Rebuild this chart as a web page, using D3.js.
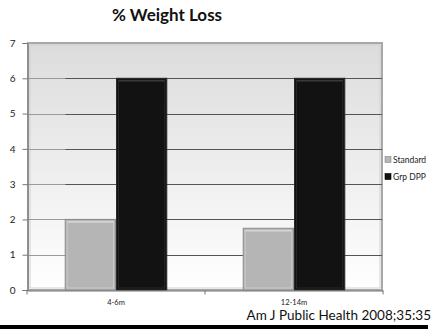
<!DOCTYPE html>
<html>
<head>
<meta charset="utf-8">
<script src="https://cdn.jsdelivr.net/npm/d3@7"></script>
<style>
  html, body { margin: 0; padding: 0; background: #fff; }
  svg { display: block; }
  text { font-family: Lato, "Open Sans", sans-serif; }
</style>
</head>
<body>
<svg id="chart" width="431" height="329"></svg>
<script>
// Chart data
const categories = ["4-6m", "12-14m"];
const series = ["Standard", "Grp DPP"];
const standardValues = [2, 1.75];
const dppValues = [6, 6];
const yTicks = [0, 1, 2, 3, 4, 5, 6, 7];
const seriesColors = ["#b5b5b5", "#121212"];

const rows = categories.map((c, i) => ({ category: c, values: [standardValues[i], dppValues[i]] }));

const svg = d3.select("#chart");
const plot = { left: 27, right: 383, top: 43, bottom: 290 };

const x0 = d3.scaleBand().domain(categories).range([plot.left, plot.right]).padding(0);
const x1 = d3.scaleBand().domain(series).range([0, x0.bandwidth()]).paddingInner(0.02).paddingOuter(0.745);
const y = d3.scaleLinear().domain([0, 7]).range([plot.bottom, plot.top]);

const defs = svg.append("defs");
const bg = defs.append("linearGradient").attr("id", "wall").attr("x1", 0).attr("y1", 0).attr("x2", 0).attr("y2", 1);
bg.append("stop").attr("offset", "0%").attr("stop-color", "#dcdcdc");
bg.append("stop").attr("offset", "100%").attr("stop-color", "#ffffff");

// Title
svg.append("text").attr("x", 167).attr("y", 21).attr("text-anchor", "middle")
  .style("font-family", "Lato, 'Open Sans', sans-serif")
  .attr("font-size", 17).attr("font-weight", "bold").attr("fill", "#111").text("% Weight Loss");

// Plot wall with frame
svg.append("rect").attr("x", plot.left + 1).attr("y", plot.top)
  .attr("width", plot.right - plot.left - 2).attr("height", plot.bottom - plot.top)
  .attr("fill", "url(#wall)").attr("stroke", "#a8a8a8").attr("stroke-width", 2);
svg.append("rect").attr("x", plot.left + 3).attr("y", plot.top + 2)
  .attr("width", plot.right - plot.left - 6).attr("height", plot.bottom - plot.top - 4)
  .attr("fill", "none").attr("stroke", "#d0d0d0").attr("stroke-width", 1);

// Gridlines: light on the side wall, darker across the back wall
const gridVals = yTicks.filter(v => v > 0 && v < 7);
const backWallX = x0(categories[0]) + x1(series[0]);
svg.append("g").selectAll("line").data(gridVals).join("line")
  .attr("x1", plot.left).attr("x2", backWallX)
  .attr("y1", d => Math.round(y(d)) + 0.5).attr("y2", d => Math.round(y(d)) + 0.5)
  .attr("stroke", "#9a9a9a").attr("stroke-width", 1);
svg.append("g").selectAll("line").data(gridVals).join("line")
  .attr("x1", backWallX).attr("x2", plot.right - 1)
  .attr("y1", d => Math.round(y(d)) + 0.5).attr("y2", d => Math.round(y(d)) + 0.5)
  .attr("stroke", "#555").attr("stroke-width", 1);

// Bars
const groups = svg.append("g").selectAll("g").data(rows).join("g")
  .attr("transform", d => `translate(${x0(d.category)},0)`);
groups.each(function (d) {
  const g = d3.select(this);
  d.values.forEach((v, i) => {
    const bx = x1(series[i]), bw = x1.bandwidth();
    const top = y(v), h = y(0) - y(v);
    g.append("rect").attr("x", bx).attr("y", top).attr("width", bw).attr("height", h)
      .attr("fill", seriesColors[i]).attr("stroke", i === 0 ? "#8c8c8c" : "#2a2a2a").attr("stroke-width", 1);
    // bevel highlight
    g.append("rect").attr("x", bx + 2).attr("y", top + 2).attr("width", bw - 4).attr("height", Math.max(0, h - 4))
      .attr("fill", "none").attr("stroke", i === 0 ? "#c8c8c8" : "#262626").attr("stroke-width", 1);
    g.append("line").attr("x1", bx + 2).attr("x2", bx + bw - 2).attr("y1", top + 2.5).attr("y2", top + 2.5)
      .attr("stroke", i === 0 ? "#d6d6d6" : "#3a3a3a").attr("stroke-width", 1.5);
  });
});

// Y axis
const yAxis = d3.axisLeft(y).tickValues(yTicks).tickSize(5).tickPadding(7).tickFormat(d3.format("d"));
const yg = svg.append("g").attr("transform", `translate(${plot.left + 0.5},0)`).call(yAxis);
yg.select(".domain").attr("stroke", "#777");
yg.selectAll(".tick line").attr("stroke", "#777");
yg.selectAll("text").attr("font-size", 10).attr("fill", "#222");

// X axis
const xAxis = d3.axisBottom(x0).tickSize(0).tickPadding(9);
const xg = svg.append("g").attr("transform", `translate(0,${plot.bottom + 0.5})`).call(xAxis);
xg.select(".domain").attr("stroke", "#777");
xg.selectAll("text").attr("font-size", 7.5).attr("fill", "#222");
// category boundary ticks
xg.append("g").selectAll("line").data(categories.concat([null])).join("line")
  .attr("x1", (d, i) => i < categories.length ? x0(d) : x0.range()[1])
  .attr("x2", (d, i) => i < categories.length ? x0(d) : x0.range()[1])
  .attr("y1", 0).attr("y2", 4).attr("stroke", "#777");

// Legend
const legend = svg.append("g").attr("transform", "translate(385,160)");
series.forEach((s, i) => {
  const row = legend.append("g").attr("transform", `translate(0,${i * 17})`);
  row.append("rect").attr("x", 0).attr("y", -3.5).attr("width", 6).attr("height", 6)
    .attr("fill", seriesColors[i]).attr("stroke", i === 0 ? "#888" : "#000").attr("stroke-width", 0.6);
  row.append("text").attr("x", 8).attr("y", 0).attr("dy", "0.35em")
    .attr("font-size", 8.5).attr("fill", "#222").text(s);
});

// Source line and footer rule
svg.append("text").attr("x", 431).attr("y", 320).attr("text-anchor", "end")
  .attr("font-size", 13.5).attr("fill", "#111").text("Am J Public Health 2008;35:35");
svg.append("rect").attr("x", 0).attr("y", 325).attr("width", 428).attr("height", 4).attr("fill", "#000");
</script>
</body>
</html>
